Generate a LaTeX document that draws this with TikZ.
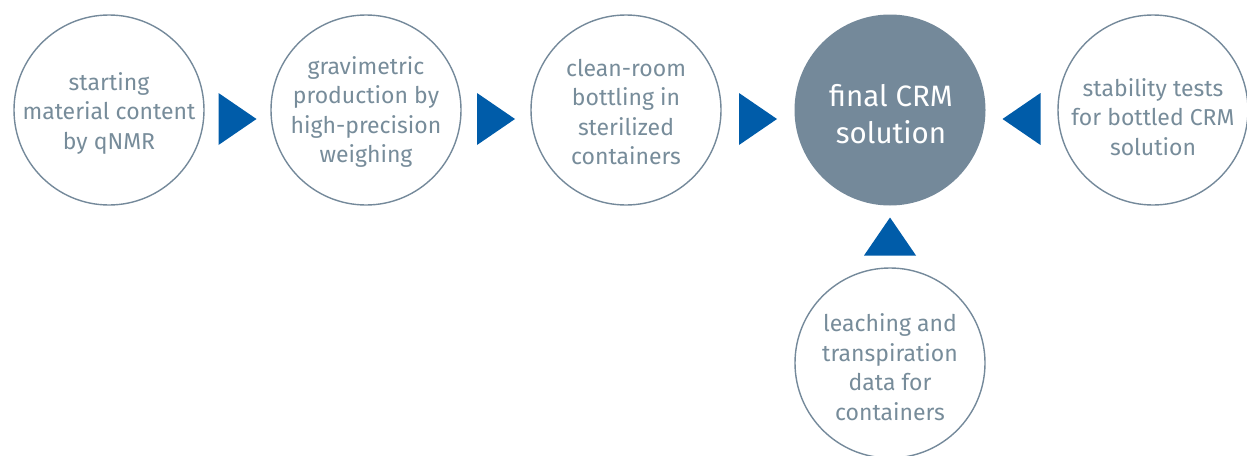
\documentclass[tikz,border=0pt]{standalone}
\usepackage{fontspec}
\setmainfont{Fira Sans}
\usetikzlibrary{calc}
\definecolor{ring}{HTML}{74899A}
\definecolor{txt}{HTML}{778C9A}
\definecolor{blu}{HTML}{005CA9}
\begin{document}
\begin{tikzpicture}[x=1pt,y=-1pt,
  stepnode/.style={circle,draw=ring,line width=1.4pt,minimum size=190pt,inner sep=0pt},
  finalnode/.style={circle,fill=ring,minimum size=191pt,inner sep=0pt},
  steptext/.style={text=txt,align=center,font=\fontsize{23}{29.5}\selectfont},
  finaltext/.style={text=white,align=center,font=\fontsize{29.5}{37}\selectfont},
  tri/.style={fill=blu}]
\useasboundingbox (0,0) rectangle (1247,455);
\node[stepnode] (c1) at (109,110) {};
\node[steptext] (t1) at (109,113) {starting\\material content\\by qNMR};
\node[stepnode] (c2) at (366,110) {};
\node[steptext] (t2) at (366,112) {gravimetric\\production by\\high-precision\\weighing};
\node[stepnode] (c3) at (626,110) {};
\node[steptext] (t3) at (626,112) {clean-room\\bottling in\\sterilized\\containers};
\node[finalnode] (c4) at (890,110) {};
\node[finaltext] (t4) at (891,114) {final CRM\\solution};
\node[stepnode] (c5) at (1153,110) {};
\node[steptext] (t5) at (1153,117) {stability tests\\for bottled CRM\\solution};
\node[stepnode] (c6) at (890,363) {};
\node[steptext] (t6) at (890,367) {leaching and\\transpiration\\data for\\containers};
% arrows between circles
\coordinate (a1) at ($(c1.east)!0.5!(c2.west)+(0,9)$);
\coordinate (a2) at ($(c2.east)!0.5!(c3.west)+(0,9)$);
\coordinate (a3) at ($(c3.east)!0.5!(c4.west)+(0,9)$);
\coordinate (a4) at ($(c4.east)!0.5!(c5.west)+(0,9)$);
\coordinate (a5) at ($(c4.south)!0.5!(c6.north)$);
\fill[tri] ($(a1)+(-19,-26)$) -- ($(a1)+(19,0)$) -- ($(a1)+(-19,26)$) -- cycle;
\fill[tri] ($(a2)+(-19,-26)$) -- ($(a2)+(19,0)$) -- ($(a2)+(-19,26)$) -- cycle;
\fill[tri] ($(a3)+(-19,-26)$) -- ($(a3)+(19,0)$) -- ($(a3)+(-19,26)$) -- cycle;
\fill[tri] ($(a4)+(19,-26)$) -- ($(a4)+(-19,0)$) -- ($(a4)+(19,26)$) -- cycle;
\fill[tri] ($(a5)+(-26,19)$) -- ($(a5)+(0,-19)$) -- ($(a5)+(26,19)$) -- cycle;
\end{tikzpicture}
\end{document}
